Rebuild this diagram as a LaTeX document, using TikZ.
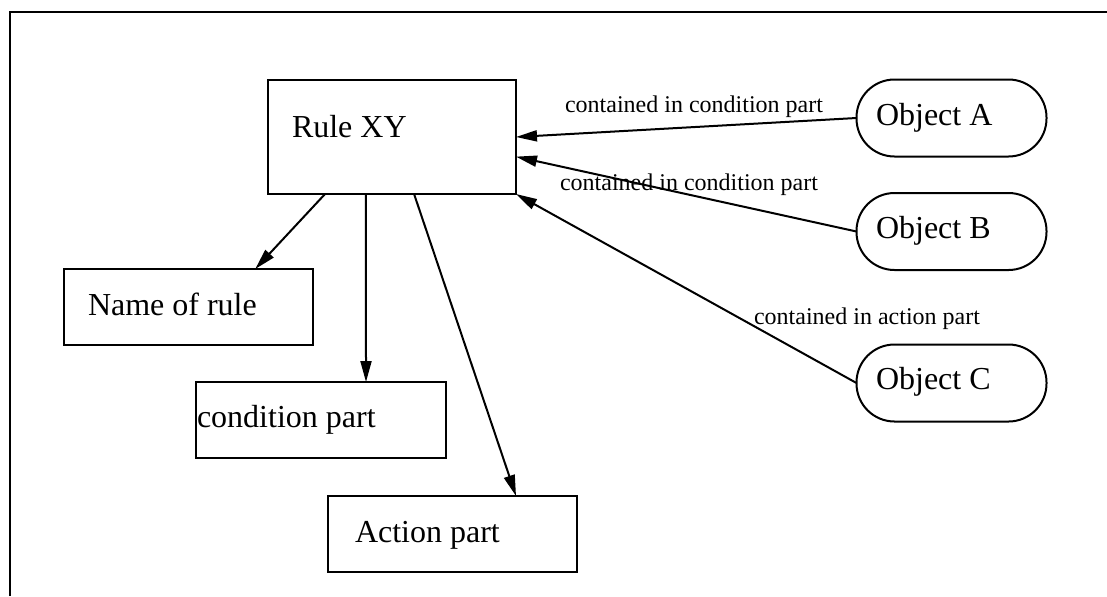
\documentclass[tikz,border=0pt]{standalone}
\usepackage{fontspec}
\setmainfont{Liberation Serif}
\usetikzlibrary{arrows.meta,calc}
\begin{document}
\begin{tikzpicture}[x=0.5pt,y=-0.5pt,
  every node/.style={inner sep=0pt,outer sep=0pt},
  rulebox/.style={draw,line width=1pt,minimum width=124pt,minimum height=57pt},
  partbox/.style={draw,line width=1pt,minimum width=124.5pt,minimum height=38pt},
  objbox/.style={draw,line width=1pt,rounded corners=19pt,minimum width=95pt,minimum height=38.5pt},
  boxtext/.style={font=\fontsize{16}{19}\selectfont,anchor=base west},
  edgelabel/.style={font=\fontsize{12}{14}\selectfont,anchor=base},
  link/.style={line width=1pt,-{Triangle[length=10.5pt,width=5.5pt]}}]
\useasboundingbox (0,0) rectangle (1107,596);

% outer frame (top and left edges)
\draw[line width=1pt] (10,596) -- (10,12) -- (1107,12);

% rule and its parts
\node[rulebox] (rule) at (392,137) {};
\node[boxtext] (ruletext) at (292,137) {Rule XY};
\node[partbox] (name) at (188,307) {};
\node[boxtext] (nametext) at (88,315) {Name of rule};
\node[partbox,minimum width=125pt] (cond) at (321,420) {};
\node[boxtext] (condtext) at (197,427) {condition part};
\node[partbox] (action) at (452.5,534) {};
\node[boxtext] (actiontext) at (355,542) {Action part};

% objects
\node[objbox] (objA) at (951.5,118) {};
\node[boxtext] (objAtext) at (876,125) {Object A};
\node[objbox] (objB) at (951.5,231.5) {};
\node[boxtext] (objBtext) at (876,238) {Object B};
\node[objbox] (objC) at (951.5,383) {};
\node[boxtext] (objCtext) at (876,389) {Object C};

% rule to its parts
\draw[link] ($(rule.south west)!0.23!(rule.south east)$) -- ($(name.north west)!0.77!(name.north east)$);
\draw[link] ($(rule.south west)!0.395!(rule.south east)$) -- ($(cond.north west)!0.68!(cond.north east)$);
\draw[link] ($(rule.south west)!0.589!(rule.south east)$) -- ($(action.north west)!0.755!(action.north east)$);

% objects referenced by the rule
\draw[link] (objA.west) -- (rule.east);
\draw[link] (objB.west) -- (rule.-9.2);
\draw[link] (objC.west) -- (rule.south east);

% edge labels
\node[edgelabel] (labA) at (694,112) {contained in condition part};
\node[edgelabel] (labB) at (689,190) {contained in condition part};
\node[edgelabel] (labC) at (867,324) {contained in action part};
\end{tikzpicture}
\end{document}
